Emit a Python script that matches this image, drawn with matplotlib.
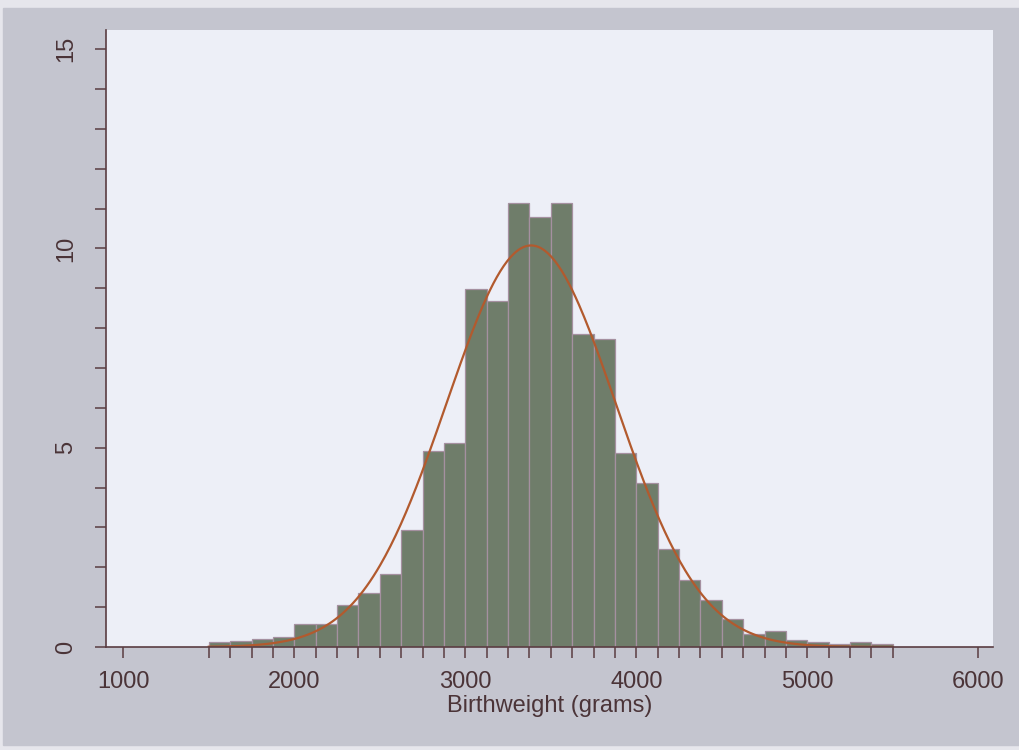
import matplotlib
matplotlib.use('Agg')
import matplotlib.pyplot as plt
import numpy as np
from matplotlib.patches import Rectangle

# Histogram data (percent of births per 125 g bin)
bin_start = 1500
bin_width = 125
percent = [0.12, 0.16, 0.20, 0.26, 0.57, 0.57, 1.05, 1.36,
           1.83, 2.93, 4.91, 5.13, 8.99, 8.69, 11.15, 10.80,
           11.15, 7.85, 7.73, 4.87, 4.11, 2.47, 1.69, 1.18,
           0.69, 0.33, 0.41, 0.18, 0.13, 0.07, 0.12, 0.08]

# Fitted normal curve parameters
mean_bw = 3385
sd_bw = 495

x_ticks = [1000, 2000, 3000, 4000, 5000, 6000]
y_ticks = [0, 5, 10, 15]
x_label = 'Birthweight (grams)'

# Colours
outer_bg = '#c4c5cf'
plot_bg = '#edeff7'
bar_color = '#6f7d6a'
bar_edge = '#a590a0'
curve_color = '#b25a2e'
axis_color = '#5a3d42'
text_color = '#4b3438'

plt.rcParams['font.family'] = ['Liberation Sans', 'DejaVu Sans']

fig = plt.figure(figsize=(10.19, 7.5), dpi=100)
fig.patch.set_facecolor('#e6e6ec')
fig.patches.append(Rectangle((3/1019, 5/750), 1 - 3/1019, 1 - 13/750,
                             transform=fig.transFigure, color=outer_bg, zorder=-10))

ax = fig.add_axes([106/1019, 1 - 647/750, (993 - 106)/1019, (647 - 30)/750])
ax.set_zorder(1)
ax.set_facecolor(plot_bg)

edges = bin_start + bin_width * np.arange(len(percent) + 1)
ax.bar(edges[:-1], percent, width=bin_width, align='edge',
       color=bar_color, edgecolor=bar_edge, linewidth=0.9, zorder=2)

# normal density scaled to percent per bin
xs = np.linspace(edges[0], edges[-1], 400)
ys = 100 * bin_width * np.exp(-0.5 * ((xs - mean_bw) / sd_bw) ** 2) / (sd_bw * np.sqrt(2 * np.pi))
ax.plot(xs, ys, color=curve_color, linewidth=1.6, zorder=3)

ax.set_xlim(899, 6086)
ax.set_ylim(0, 15.48)

ax.set_xticks(x_ticks)
ax.set_xticks(edges, minor=True)
ax.set_yticks(y_ticks)
ax.set_yticks(np.arange(0, 16), minor=True)

for s in ['top', 'right']:
    ax.spines[s].set_visible(False)
for s in ['left', 'bottom']:
    ax.spines[s].set_color(axis_color)
    ax.spines[s].set_linewidth(1.2)
    ax.spines[s].set_zorder(4)

ax.tick_params(axis='both', which='both', direction='out', length=8, width=1.1,
               color=axis_color, labelcolor=text_color, labelsize=17)
ax.tick_params(axis='x', which='major', pad=9)
ax.tick_params(axis='y', which='major', pad=13)
for lab in ax.get_yticklabels():
    lab.set_rotation(90)
    lab.set_va('center')

ax.set_xlabel(x_label, fontsize=17, color=text_color, labelpad=2)

fig.savefig('out.png', dpi=100, facecolor=fig.get_facecolor())
